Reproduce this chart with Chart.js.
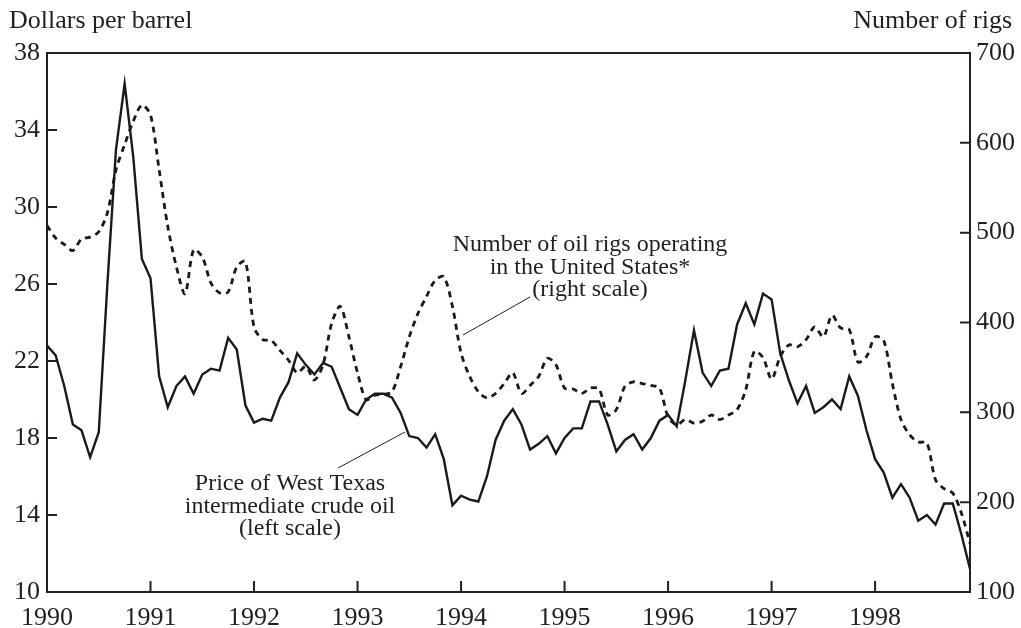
<!DOCTYPE html>
<html>
<head>
<meta charset="utf-8">
<script src="https://cdn.jsdelivr.net/npm/chart.js@4/dist/chart.umd.min.js"></script>
<style>
  html, body { margin: 0; padding: 0; background: #fff; }
  #wrap { width: 1021px; height: 628px; }
</style>
</head>
<body>
<div id="wrap"><canvas id="oilChart" width="1021" height="628"></canvas></div>
<script>
// monthly, Jan 1990 - Dec 1998
const years = ["1990", "1991", "1992", "1993", "1994", "1995", "1996", "1997", "1998"];
const monthNames = ["Jan", "Feb", "Mar", "Apr", "May", "Jun", "Jul", "Aug", "Sep", "Oct", "Nov", "Dec"];

// West Texas intermediate, dollars per barrel (left scale)
const wtiPrice = [
    22.8, 22.3, 20.7, 18.7, 18.4, 17.0, 18.3, 26.0, 33.0, 36.4, 32.6, 27.3,
    26.3, 21.2, 19.6, 20.7, 21.2, 20.3, 21.3, 21.6, 21.5, 23.2, 22.6, 19.7,
    18.8, 19.0, 18.9, 20.1, 20.9, 22.4, 21.8, 21.3, 21.9, 21.7, 20.6, 19.5,
    19.2, 20.0, 20.3, 20.3, 20.1, 19.3, 18.1, 18.0, 17.5, 18.2, 16.9, 14.5,
    15.0, 14.8, 14.7, 16.0, 17.9, 18.9, 19.5, 18.7, 17.4, 17.7, 18.1, 17.2,
    18.0, 18.5, 18.5, 19.9, 19.9, 18.7, 17.3, 17.9, 18.2, 17.4, 18.0, 18.9,
    19.2, 18.6, 21.0, 23.6, 21.4, 20.7, 21.5, 21.6, 23.9, 25.0, 23.9, 25.5,
    25.2, 22.4, 21.0, 19.8, 20.7, 19.3, 19.6, 20.0, 19.5, 21.2, 20.2, 18.4,
    16.9, 16.2, 14.9, 15.6, 14.9, 13.7, 14.0, 13.5, 14.6, 14.6, 13.0, 11.2
];

// oil rigs operating in the US (right scale)
const rigCount = [
    508, 494, 487, 480, 493, 495, 501, 522, 570, 598, 624, 642,
    631, 570, 507, 462, 432, 481, 473, 444, 433, 434, 462, 468,
    395, 381, 380, 369, 358, 344, 351, 336, 353, 399, 418, 384,
    344, 314, 319, 320, 323, 351, 384, 410, 429, 447, 451, 418,
    366, 340, 323, 316, 321, 332, 344, 321, 330, 340, 360, 353,
    327, 326, 321, 327, 326, 297, 303, 329, 334, 332, 330, 327,
    295, 286, 292, 288, 290, 297, 292, 297, 303, 325, 368, 361,
    337, 362, 375, 373, 381, 395, 384, 408, 394, 392, 356, 362,
    384, 380, 332, 292, 275, 267, 266, 225, 215, 210, 188, 154
];

const priceTicks = [10, 14, 18, 22, 26, 30, 34, 38];
const rigTicks = [100, 200, 300, 400, 500, 600, 700];

const rigNote = ["Number of oil rigs operating", "in the United States*", "(right scale)"];
const priceNote = ["Price of West Texas", "intermediate crude oil", "(left scale)"];

const labels = [];
years.forEach(y => monthNames.forEach(m => labels.push(m + " " + y)));

const ink = "#231f20";
const serif = "'Liberation Serif', 'Times New Roman', serif";

// ticks point into the plot, and the box is closed on top
const frame = {
    id: "frame",
    afterDraw(chart) {
        const ctx = chart.ctx;
        const a = chart.chartArea;
        const x = chart.scales.x, yl = chart.scales.y, yr = chart.scales.y1;
        ctx.save();
        ctx.strokeStyle = ink;
        ctx.lineWidth = 2;
        ctx.beginPath();
        ctx.moveTo(a.left - 1, a.top);
        ctx.lineTo(a.right + 1, a.top);
        for (let i = 12; i < labels.length; i += 12) {
            const px = x.getPixelForValue(i);
            ctx.moveTo(px, a.bottom);
            ctx.lineTo(px, a.bottom - 11);
        }
        priceTicks.slice(1, -1).forEach(v => {
            const py = yl.getPixelForValue(v);
            ctx.moveTo(a.left, py);
            ctx.lineTo(a.left + 10, py);
        });
        rigTicks.slice(1, -1).forEach(v => {
            const py = yr.getPixelForValue(v);
            ctx.moveTo(a.right, py);
            ctx.lineTo(a.right - 10, py);
        });
        ctx.stroke();

        // axis captions
        ctx.fillStyle = ink;
        ctx.font = "26px " + serif;
        ctx.textBaseline = "alphabetic";
        ctx.textAlign = "left";
        ctx.fillText("Dollars per barrel", 9, 28);
        ctx.textAlign = "right";
        ctx.fillText("Number of rigs", 1012, 28);

        // notes with leader lines
        ctx.font = "24px " + serif;
        ctx.textAlign = "center";
        rigNote.forEach((t, i) => ctx.fillText(t, 590, 251 + i * 22.5));
        priceNote.forEach((t, i) => ctx.fillText(t, 290, 490 + i * 22.5));
        ctx.lineWidth = 1;
        ctx.beginPath();
        ctx.moveTo(463, 335);
        ctx.lineTo(530, 297);
        ctx.moveTo(338, 468);
        ctx.lineTo(405, 432);
        ctx.stroke();
        ctx.restore();
    }
};

new Chart(document.getElementById("oilChart"), {
    type: "line",
    data: {
        labels: labels,
        datasets: [{
            label: "Price of West Texas intermediate crude oil",
            data: wtiPrice,
            yAxisID: "y",
            borderColor: "#1a1a1a",
            borderWidth: 2.4,
            pointRadius: 0,
            tension: 0,
        }, {
            label: "Number of oil rigs operating in the United States",
            data: rigCount,
            yAxisID: "y1",
            borderColor: "#1a1a1a",
            borderWidth: 2.8,
            borderDash: [6, 5],
            pointRadius: 0,
            tension: 0.3,
        }],
    },
    options: {
        responsive: false,
        animation: false,
        layout: { padding: { top: 53, left: 0, right: 0, bottom: 0 } },
        plugins: {
            legend: { display: false },
            tooltip: { enabled: false },
        },
        scales: {
            x: {
                type: "category",
                offset: false,
                grid: { display: false, tickLength: 0 },
                border: { display: true, color: ink, width: 2 },
                afterFit(scale) { scale.height = 36; },
                ticks: {
                    autoSkip: false,
                    maxRotation: 0,
                    minRotation: 0,
                    padding: 11,
                    color: ink,
                    font: { family: serif, size: 26 },
                    callback: (v, i) => (i % 12 === 0 ? years[i / 12] : ""),
                },
            },
            y: {
                position: "left",
                min: 10,
                max: 38,
                grid: { display: false, tickLength: 0 },
                border: { display: true, color: ink, width: 2 },
                afterFit(scale) { scale.width = 47; },
                afterBuildTicks(scale) { scale.ticks = priceTicks.map(v => ({ value: v })); },
                ticks: {
                    padding: 7,
                    color: ink,
                    font: { family: serif, size: 26 },
                },
            },
            y1: {
                position: "right",
                min: 100,
                max: 700,
                grid: { display: false, tickLength: 0 },
                border: { display: true, color: ink, width: 2 },
                afterFit(scale) { scale.width = 51; },
                afterBuildTicks(scale) { scale.ticks = rigTicks.map(v => ({ value: v })); },
                ticks: {
                    padding: 6,
                    color: ink,
                    font: { family: serif, size: 26 },
                },
            },
        },
    },
    plugins: [frame]
});
</script>
</body>
</html>
